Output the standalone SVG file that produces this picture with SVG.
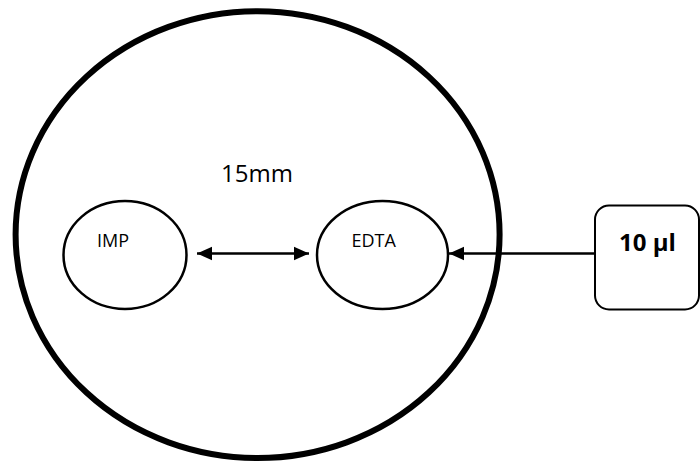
<svg xmlns="http://www.w3.org/2000/svg" width="700" height="461" viewBox="0 0 700 461">
<style>
.node{fill:#fff;stroke:#000;stroke-width:2.5}
.lbl{font-family:"Open Sans","Liberation Sans",sans-serif;fill:#000}
.con{stroke:#000;stroke-width:2.5;fill:none}
</style>
<defs>
<marker id="ah" viewBox="0 0 10 10" refX="10" refY="5" markerUnits="userSpaceOnUse" markerWidth="15" markerHeight="15" orient="auto-start-reverse">
<path d="M0,0.5 L10,5 L0,9.5 Z" fill="#000"/>
</marker>
</defs>
<rect width="700" height="461" fill="#fff"/>
<g id="plate">
<ellipse cx="257.6" cy="234.6" rx="242" ry="223.4" fill="none" stroke="#000" stroke-width="6"/>
<text class="lbl" x="221" y="181.7" font-size="24">15mm</text>
</g>
<g id="imp">
<ellipse class="node" cx="125" cy="255" rx="61.5" ry="54"/>
<text class="lbl" x="97" y="246.7" font-size="18">IMP</text>
</g>
<g id="edta">
<ellipse class="node" cx="382.5" cy="255" rx="65.5" ry="54"/>
<text class="lbl" x="351.5" y="246.7" font-size="18">EDTA</text>
</g>
<g id="volume">
<rect x="595" y="205.5" width="104" height="104" rx="14" ry="14" fill="#fff" stroke="#000" stroke-width="2"/>
<text class="lbl" x="619" y="250.7" font-size="24" font-weight="bold">10 µl</text>
</g>
<g id="connectors">
<line class="con" x1="197" y1="253.5" x2="309" y2="253.5" marker-start="url(#ah)" marker-end="url(#ah)"/>
<line class="con" x1="595" y1="253.5" x2="449" y2="253.5" marker-end="url(#ah)"/>
</g>
</svg>
